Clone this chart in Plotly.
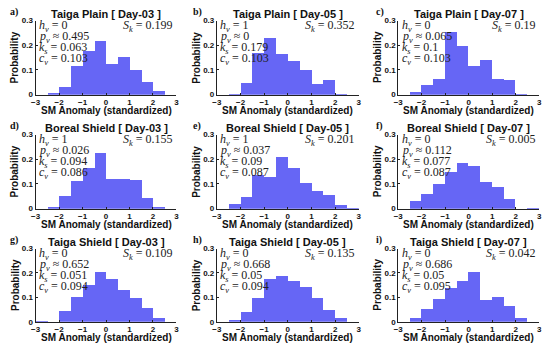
import plotly.graph_objects as go

bin_edges = [-3, -2.5, -2, -1.5, -1, -0.5, 0, 0.5, 1, 1.5, 2, 2.5, 3]

panel_labels = ["a)", "b)", "c)", "d)", "e)", "f)", "g)", "h)", "i)"]
titles = ["Taiga Plain [ Day-03 ]", "Taiga Plain [ Day-05 ]", "Taiga Plain [ Day-07 ]",
          "Boreal Shield [ Day-03 ]", "Boreal Shield [ Day-05 ]", "Boreal Shield [ Day-07 ]",
          "Taiga Shield [ Day-03 ]", "Taiga Shield [ Day-05 ]", "Taiga Shield [ Day-07 ]"]

prob_a = [0, 0.008, 0.033, 0.118, 0.180, 0.217, 0.124, 0.153, 0.100, 0.052, 0.017, 0]
prob_b = [0, 0.002, 0.047, 0.170, 0.233, 0.167, 0.137, 0.100, 0.043, 0.062, 0.003, 0]
prob_c = [0, 0.013, 0.040, 0.066, 0.256, 0.198, 0.116, 0.144, 0.067, 0.063, 0.005, 0]
prob_d = [0, 0.007, 0.053, 0.112, 0.167, 0.226, 0.121, 0.121, 0.116, 0.045, 0.008, 0]
prob_e = [0, 0.019, 0.050, 0.138, 0.130, 0.210, 0.165, 0.105, 0.074, 0.058, 0.016, 0.004]
prob_f = [0, 0.032, 0.060, 0.103, 0.151, 0.187, 0.175, 0.111, 0.089, 0.040, 0, 0.004]
prob_g = [0.003, 0, 0.047, 0.105, 0.151, 0.204, 0.175, 0.132, 0.097, 0.059, 0.015, 0]
prob_h = [0, 0.009, 0.041, 0.100, 0.175, 0.190, 0.168, 0.146, 0.097, 0.048, 0.015, 0]
prob_i = [0, 0.015, 0.052, 0.096, 0.140, 0.169, 0.204, 0.091, 0.105, 0.065, 0.017, 0]
probs = [prob_a, prob_b, prob_c, prob_d, prob_e, prob_f, prob_g, prob_h, prob_i]

h_v = ["0", "1", "0", "1", "1", "0", "0", "0", "0"]
p_v = ["0.495", "0", "0.065", "0.026", "0.037", "0.112", "0.652", "0.668", "0.686"]
k_s = ["0.063", "0.179", "0.1", "0.094", "0.09", "0.077", "0.051", "0.05", "0.05"]
c_v = ["0.103", "0.103", "0.103", "0.086", "0.087", "0.087", "0.094", "0.094", "0.095"]
S_k = ["0.199", "0.352", "0.19", "0.155", "0.201", "0.005", "0.109", "0.135", "0.042"]

x_ticks = [-3, -2, -1, 0, 1, 2, 3]
y_ticks = [0, 0.1, 0.2, 0.3]

W, H = 550, 354
col_px = [(31, 174), (215, 359), (399, 542)]
row_px = [(17, 93), (134, 210), (251, 326)]
label_x_px = [3, 189, 374]

BAR = "rgb(102,102,245)"
centers = [(bin_edges[k] + bin_edges[k + 1]) / 2 for k in range(len(bin_edges) - 1)]

fig = go.Figure()
ann = []
sans = "Liberation Sans"
serif = "Liberation Serif"

for i in range(9):
    r, c = divmod(i, 3)
    n = "" if i == 0 else str(i + 1)
    x0, x1 = col_px[c]
    y0, y1 = row_px[r]
    fig.add_trace(go.Bar(x=centers, y=probs[i], width=0.5, marker=dict(color=BAR, line=dict(width=0)),
                         xaxis="x" + n, yaxis="y" + n, showlegend=False))
    axcommon = dict(showgrid=False, zeroline=False, showline=True, linecolor="#222", linewidth=1,
                    ticks="inside", ticklen=2, tickcolor="#222",
                    tickfont=dict(family=sans, size=8, color="#111", weight="bold"))
    fig.layout["xaxis" + n] = dict(domain=[x0 / W, x1 / W], range=[-3, 3], tickvals=x_ticks,
                                   anchor="y" + n, **axcommon)
    fig.layout["yaxis" + n] = dict(domain=[1 - y1 / H, 1 - y0 / H], range=[0, 0.3], tickvals=y_ticks,
                                   ticktext=["0", "0.1", "0.2", "0.3"],
                                   anchor="x" + n, **axcommon)
    ann.append(dict(text="<b>" + titles[i] + "</b>", x=(x0 + x1) / 2 / W, y=1 - (y0 - 7) / H,
                    xref="paper", yref="paper", showarrow=False, xanchor="center", yanchor="middle",
                    font=dict(family=sans, size=11, color="#111")))
    ann.append(dict(text="<b>" + panel_labels[i] + "</b>", x=label_x_px[c] / W, y=1 - (y0 - 9) / H,
                    xref="paper", yref="paper", showarrow=False, xanchor="left", yanchor="middle",
                    font=dict(family=serif, size=10, color="#111")))
    ann.append(dict(text="<b>SM Anomaly (standardized)</b>", x=(x0 + x1) / 2 / W, y=1 - (y1 + 16) / H,
                    xref="paper", yref="paper", showarrow=False, xanchor="center", yanchor="middle",
                    font=dict(family=sans, size=10, color="#111")))
    ann.append(dict(text="<b>Probability</b>", x=(x0 - 21) / W, y=1 - (y0 + y1) / 2 / H,
                    xref="paper", yref="paper", showarrow=False, xanchor="center", yanchor="middle",
                    textangle=-90, font=dict(family=sans, size=10, color="#111")))
    lines = ["<i>h<sub>v</sub></i> = " + h_v[i],
             "<i>p<sub>v</sub></i> \u2248 " + p_v[i],
             "<i>k<sub>s</sub></i> = " + k_s[i],
             "<i>c<sub>v</sub></i> = " + c_v[i]]
    for j, t in enumerate(lines):
        ann.append(dict(text=t, x=0.01, y=1 - (6 + 11.3 * j) / 76, xref="x" + n + " domain",
                        yref="y" + n + " domain", showarrow=False, xanchor="left", yanchor="middle",
                        font=dict(family=serif, size=12, color="#222")))
    ann.append(dict(text="<i>S<sub>k</sub></i> = " + S_k[i], x=0.99, y=1 - 6 / 76, xref="x" + n + " domain",
                    yref="y" + n + " domain", showarrow=False, xanchor="right", yanchor="middle",
                    font=dict(family=serif, size=12, color="#222")))

fig.update_layout(width=W, height=H, margin=dict(l=0, r=0, t=0, b=0), paper_bgcolor="white",
                  plot_bgcolor="white", bargap=0, annotations=ann, showlegend=False)
fig.write_html("out.html", config={"displayModeBar": False},
               post_script="document.body.style.margin='0px';document.body.style.overflow='hidden';")
